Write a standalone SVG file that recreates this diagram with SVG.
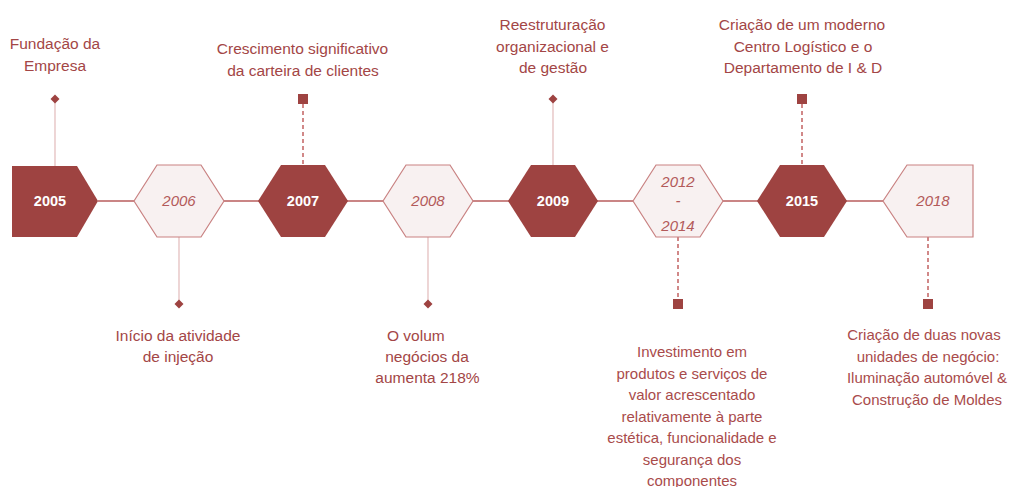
<svg xmlns="http://www.w3.org/2000/svg" width="1010" height="487" viewBox="0 0 1010 487">
<style>
.dark{fill:#9E4341}
.light{fill:#F8F1F1;stroke:#C98282;stroke-width:1.2}
.yd{font-family:"Liberation Sans",Arial,sans-serif;font-weight:bold;font-size:14.5px;fill:#FFFFFF;text-anchor:middle}
.yl{font-family:"Liberation Sans",Arial,sans-serif;font-style:italic;font-size:15px;fill:#B35A5A;text-anchor:middle}
.lbl{font-family:"Liberation Sans",Arial,sans-serif;font-size:15.5px;fill:#A34646;text-anchor:middle}
.lbl2{font-family:"Liberation Sans",Arial,sans-serif;font-size:15px;fill:#A94B4B;text-anchor:middle}
.solid{stroke:#E2BABA;stroke-width:1.2;fill:none}
.dash{stroke:#C66B6B;stroke-width:1.6;stroke-dasharray:4 3;fill:none}
.mk{fill:#9E4341}
.hline{stroke:#B85C5C;stroke-width:1.3}
</style>
<g id="connectors">
<line class="hline" x1="98" y1="201" x2="883" y2="201"/>
<line class="solid" x1="55" y1="99" x2="55" y2="166"/>
<path class="mk" d="M55 94.5 L59.5 99 L55 103.5 L50.5 99 Z"/>
<line class="dash" x1="303" y1="104" x2="303" y2="165"/>
<rect class="mk" x="298" y="94" width="10" height="10"/>
<line class="solid" x1="553" y1="99" x2="553" y2="165"/>
<path class="mk" d="M553 94.5 L557.5 99 L553 103.5 L548.5 99 Z"/>
<line class="dash" x1="802" y1="104" x2="802" y2="165"/>
<rect class="mk" x="797" y="94" width="10" height="10"/>
<line class="solid" x1="179" y1="237" x2="179" y2="304"/>
<path class="mk" d="M179 299.5 L183.5 304 L179 308.5 L174.5 304 Z"/>
<line class="solid" x1="428" y1="237" x2="428" y2="304"/>
<path class="mk" d="M428 299.5 L432.5 304 L428 308.5 L423.5 304 Z"/>
<line class="dash" x1="678" y1="237" x2="678" y2="299"/>
<rect class="mk" x="673" y="299" width="10" height="10"/>
<line class="dash" x1="928" y1="237" x2="928" y2="299"/>
<rect class="mk" x="923" y="299" width="10" height="10"/>
</g>
<g id="n2005">
<polygon class="dark" points="12,166 77,166 98,201 77,237 12,237"/>
<text class="yd" x="50" y="206">2005</text>
<text class="lbl" x="55" y="49">Fundação da</text>
<text class="lbl" x="55" y="71">Empresa</text>
</g>
<g id="n2006">
<polygon class="light" points="134,201 157,165 201,165 224,201 201,237 157,237"/>
<text class="yl" x="179" y="206">2006</text>
<text class="lbl" x="178" y="341">Início da atividade</text>
<text class="lbl" x="178" y="362">de injeção</text>
</g>
<g id="n2007">
<polygon class="dark" points="258,201 281,165 325,165 348,201 325,237 281,237"/>
<text class="yd" x="303" y="206">2007</text>
<text class="lbl" x="302.5" y="54">Crescimento significativo</text>
<text class="lbl" x="303" y="76">da carteira de clientes</text>
</g>
<g id="n2008">
<polygon class="light" points="383,201 406,165 450,165 473,201 450,237 406,237"/>
<text class="yl" x="428" y="206">2008</text>
<text class="lbl" x="387" y="341" style="text-anchor:start">O volum</text>
<text class="lbl" x="427" y="362">negócios da</text>
<text class="lbl" x="427.5" y="383">aumenta 218%</text>
</g>
<g id="n2009">
<polygon class="dark" points="508,201 531,165 575,165 598,201 575,237 531,237"/>
<text class="yd" x="553" y="206">2009</text>
<text class="lbl" x="552.5" y="30">Reestruturação</text>
<text class="lbl" x="552.5" y="51.5">organizacional e</text>
<text class="lbl" x="553" y="73">de gestão</text>
</g>
<g id="n2012">
<polygon class="light" points="633,201 656,165 700,165 723,201 700,237 656,237"/>
<text class="yl" x="678" y="187">2012</text>
<text class="yl" x="678" y="206">-</text>
<text class="yl" x="678" y="231">2014</text>
<text class="lbl2" x="692" y="357">Investimento em</text>
<text class="lbl2" x="692" y="378.5">produtos e serviços de</text>
<text class="lbl2" x="692" y="400">valor acrescentado</text>
<text class="lbl2" x="692" y="421.5">relativamente à parte</text>
<text class="lbl2" x="692" y="443">estética, funcionalidade e</text>
<text class="lbl2" x="692" y="464.5">segurança dos</text>
<text class="lbl2" x="692" y="486">componentes</text>
</g>
<g id="n2015">
<polygon class="dark" points="757,201 780,165 824,165 847,201 824,237 780,237"/>
<text class="yd" x="802" y="206">2015</text>
<text class="lbl" x="802" y="30">Criação de um moderno</text>
<text class="lbl" x="803" y="51.5">Centro Logístico e o</text>
<text class="lbl" x="803" y="73">Departamento de I &amp; D</text>
</g>
<g id="n2018">
<polygon class="light" points="883,201 907,165 973,165 973,237 907,237"/>
<text class="yl" x="933" y="206">2018</text>
<text class="lbl2" x="924" y="340">Criação de duas novas</text>
<text class="lbl2" x="928" y="361.5">unidades de negócio:</text>
<text class="lbl2" x="927" y="383">Iluminação automóvel &amp;</text>
<text class="lbl2" x="927" y="404.5">Construção de Moldes</text>
</g>
</svg>
